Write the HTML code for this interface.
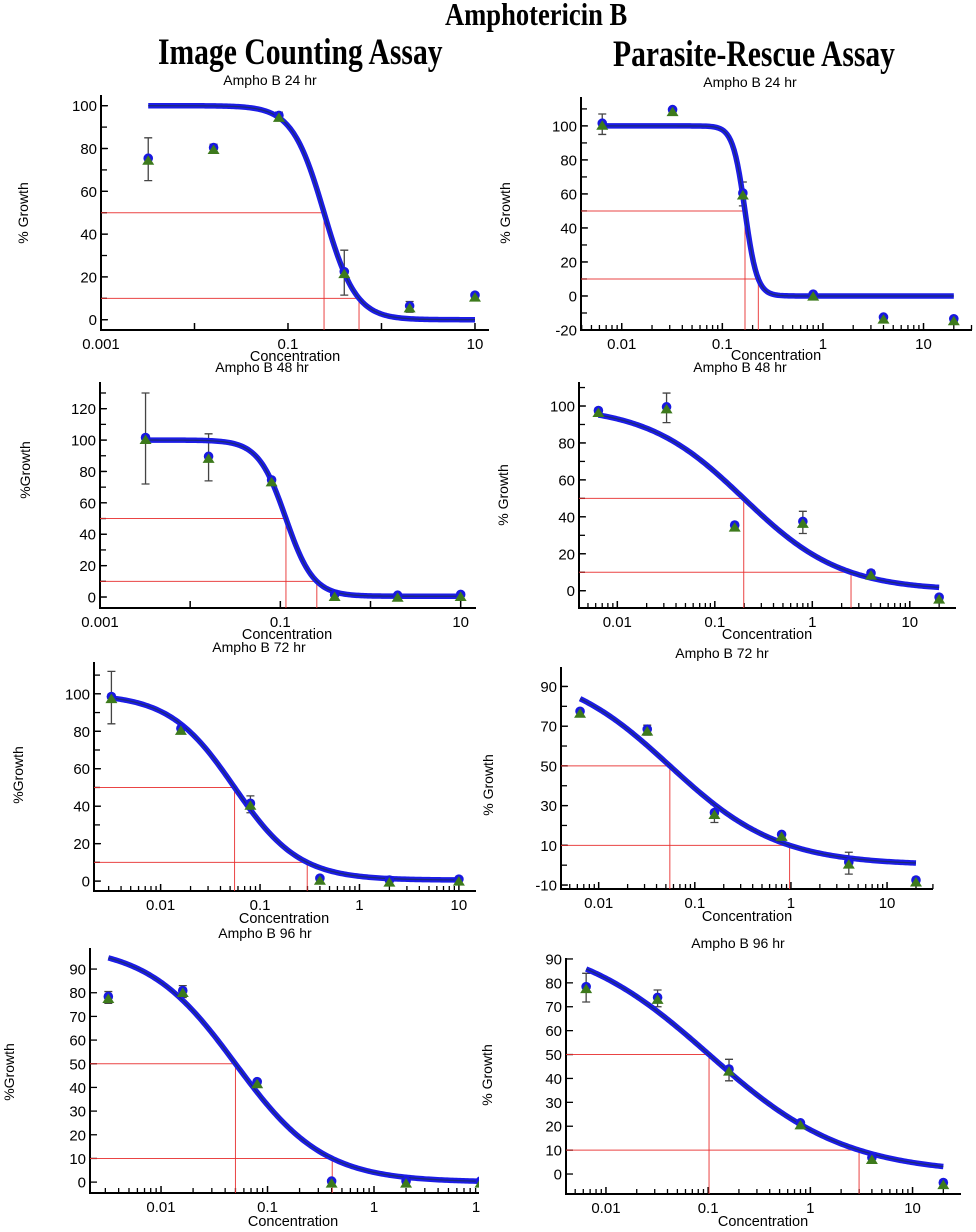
<!DOCTYPE html>
<html><head><meta charset="utf-8">
<style>
html,body{margin:0;padding:0;background:#fff;}
body{width:976px;height:1232px;position:relative;overflow:hidden;font-family:"Liberation Sans",sans-serif;}
.hdr{position:absolute;font-family:"Liberation Serif",serif;font-weight:bold;color:#000;white-space:nowrap;transform-origin:left top;}
svg{position:absolute;left:0;top:0;}
</style></head>
<body>
<div class="hdr" style="left:445px;top:-4px;font-size:32px;transform:scaleX(0.83);">Amphotericin B</div>
<div class="hdr" style="left:158px;top:31px;font-size:37px;transform:scaleX(0.80);">Image Counting Assay</div>
<div class="hdr" style="left:613px;top:33px;font-size:37px;transform:scaleX(0.80);">Parasite-Rescue Assay</div>
<svg id="chart" width="976" height="1232"></svg>
<script>
// concentrations
const concLeft = [0.0032, 0.016, 0.08, 0.4, 2, 10];
const concRight = [0.0064, 0.032, 0.16, 0.8, 4, 20];
// growth values per panel
const vals24L = [75, 80, 95, 22, 6, 11];
const err24L = [10, 2, 2, 10.5, 2.5, 1.5];
const vals24R = [101, 109, 60, 0.5, -13, -14];
const err24R = [6, 1, 7, 1, 1, 1];
const vals48L = [101, 89, 74, 1, 0.5, 1];
const err48L = [29, 15, 1, 0.5, 0.5, 0.5];
const vals48R = [97, 99, 35, 37, 9, -4];
const err48R = [1, 8, 1, 6, 2, 1];
const vals72L = [98, 81, 41, 1, 0, 0.5];
const err72L = [14, 1, 4.5, 0.5, 0.5, 0.5];
const vals72R = [77, 68, 26, 15, 1, -8];
const err72R = [1.5, 2.5, 4.5, 1, 5.5, 1];
const vals96L = [78, 80.5, 42, 0, 0, 0];
const err96L = [2.5, 2.5, 1, 0.5, 0.5, 0.5];
const vals96R = [78, 73.5, 43.5, 21, 6.5, -4];
const err96R = [6, 3.5, 4.5, 1, 2, 1];
// fitted curve params [top, bottom, ic50, hill]
const fit24L = [100, 0, 0.243, 2.55];
const fit24R = [100, 0, 0.168, 7.2];
const fit48L = [100, 0.5, 0.115, 2.84];
const fit48R = [100, 0, 0.198, 0.867];
const fit72L = [100, 0.5, 0.055, 1.33];
const fit72R = [100, 0, 0.055, 0.766];
const fit96L = [100, 0, 0.050, 1.05];
const fit96R = [100, 0, 0.102, 0.65];
// tick labels
const yTicks24L = [0, 20, 40, 60, 80, 100];
const yTicks24R = [-20, 0, 20, 40, 60, 80, 100];
const yTicks48L = [0, 20, 40, 60, 80, 100, 120];
const yTicks48R = [0, 20, 40, 60, 80, 100];
const yTicks72L = [0, 20, 40, 60, 80, 100];
const yTicks72R = [-10, 10, 30, 50, 70, 90];
const yTicks96 = [0, 10, 20, 30, 40, 50, 60, 70, 80, 90];
const xLabelsA = ["0.001", "0.1", "10"];
const xLabelsB = ["0.01", "0.1", "1", "10"];
const levels = [50, 10];

const panels = [
 {id:"24hr-image",title:"Ampho  B  24  hr",x0:101,x1:489,lL:-3,lR:1.15,yT:95,yB:330,vB:-4.8,vT:105,conc:concLeft,vals:vals24L,err:err24L,fit:fit24L,yt:yTicks24L,minorY:10,xl:xLabelsA,xlDec:[-3,-1,1],logMinor:false,tx:270,ty:85,cx:295,cy:361,ylab:"% Growth",lx:28,ly:213,c0:0.0032,c1:10},
 {id:"24hr-rescue",title:"Ampho  B  24  hr",x0:581,x1:972,lL:-2.405,lR:1.482,yT:97,yB:330,vB:-20,vT:117,conc:concRight,vals:vals24R,err:err24R,fit:fit24R,yt:yTicks24R,minorY:10,xl:xLabelsB,xlDec:[-2,-1,0,1],logMinor:true,tx:750,ty:87,cx:776,cy:360,ylab:"% Growth",lx:510,ly:213,c0:0.0064,c1:20},
 {id:"48hr-image",title:"Ampho  B  48  hr",x0:100,x1:476,lL:-3,lR:1.17,yT:382,yB:608,vB:-7,vT:137,conc:concLeft,vals:vals48L,err:err48L,fit:fit48L,yt:yTicks48L,minorY:10,xl:xLabelsA,xlDec:[-3,-1,1],logMinor:false,tx:262,ty:372,cx:287,cy:639,ylab:"%Growth",lx:30,ly:470,c0:0.0032,c1:10},
 {id:"48hr-rescue",title:"Ampho  B  48  hr",x0:579,x1:956,lL:-2.393,lR:1.474,yT:382,yB:608,vB:-9.35,vT:113,conc:concRight,vals:vals48R,err:err48R,fit:fit48R,yt:yTicks48R,minorY:10,xl:xLabelsB,xlDec:[-2,-1,0,1],logMinor:true,tx:740,ty:372,cx:767,cy:639,ylab:"% Growth",lx:508,ly:495,c0:0.0064,c1:20},
 {id:"72hr-image",title:"Ampho  B  72  hr",x0:94,x1:476,lL:-2.67,lR:1.172,yT:662,yB:891,vB:-5.3,vT:117,conc:concLeft,vals:vals72L,err:err72L,fit:fit72L,yt:yTicks72L,minorY:10,xl:xLabelsB,xlDec:[-2,-1,0,1],logMinor:true,tx:259,ty:652,cx:284,cy:923,ylab:"%Growth",lx:23,ly:775,c0:0.0032,c1:10},
 {id:"72hr-rescue",title:"Ampho  B  72  hr",x0:561,x1:933,lL:-2.392,lR:1.478,yT:667,yB:889,vB:-12,vT:99.8,conc:concRight,vals:vals72R,err:err72R,fit:fit72R,yt:yTicks72R,minorY:10,xl:xLabelsB,xlDec:[-2,-1,0,1],logMinor:true,tx:722,ty:658,cx:747,cy:921,ylab:"% Growth",lx:493,ly:785,c0:0.0064,c1:20},
 {id:"96hr-image",title:"Ampho  B  96  hr",x0:90,x1:479,lL:-2.667,lR:0.986,yT:948,yB:1193,vB:-4.6,vT:98.9,conc:concLeft,vals:vals96L,err:err96L,fit:fit96L,yt:yTicks96,minorY:0,xl:["0.01","0.1","1"],xlDec:[-2,-1,0],logMinor:true,tx:265,ty:938,cx:293,cy:1226,ylab:"%Growth",lx:14,ly:1072,c0:0.0032,c1:10,extraLabel:["1",476]},
 {id:"96hr-rescue",title:"Ampho  B  96  hr",x0:566,x1:961,lL:-2.391,lR:1.474,yT:958,yB:1194,vB:-8.36,vT:90.4,conc:concRight,vals:vals96R,err:err96R,fit:fit96R,yt:yTicks96,minorY:0,xl:xLabelsB,xlDec:[-2,-1,0,1],logMinor:true,tx:738,ty:948,cx:763,cy:1226,ylab:"% Growth",lx:492,ly:1075,c0:0.0064,c1:20}
];

const NS = "http://www.w3.org/2000/svg";
const svg = document.getElementById("chart");
function mk(tag, attrs, parent){
  const e = document.createElementNS(NS, tag);
  for (const k in attrs) e.setAttribute(k, attrs[k]);
  (parent || svg).appendChild(e);
  return e;
}
function logistic(f, c){ return f[1] + (f[0]-f[1])/(1+Math.pow(c/f[2], f[3])); }
function inverse(f, L){ return f[2]*Math.pow((f[0]-f[1])/(L-f[1]) - 1, 1/f[3]); }

panels.forEach(function(p, pi){
  const g = mk("g", {});
  
  
  const sx = function(c){ return p.x0 + (Math.log10(c) - p.lL) / (p.lR - p.lL) * (p.x1 - p.x0); };
  const sy = function(v){ return p.yB - (v - p.vB) / (p.vT - p.vB) * (p.yB - p.yT); };
  const clipId = "clip" + pi;
  const cp = mk("clipPath", {id: clipId}, g);
  mk("rect", {x: p.x0, y: p.yT - 10, width: p.x1 - p.x0, height: p.yB - p.yT + 10}, cp);

  const t = mk("text", {x: p.tx, y: p.ty, "text-anchor":"middle", "font-size":"14"}, g);
  t.textContent = p.title;
  
  
  const xt = mk("text", {x: p.cx, y: p.cy, "text-anchor":"middle", "font-size":"14.5"}, g);
  xt.textContent = "Concentration";
  
  
  const yt = mk("text", {x: p.lx, y: p.ly, "text-anchor":"middle", "font-size":"14", transform: "rotate(-90 " + p.lx + " " + p.ly + ")"}, g);
  yt.textContent = p.ylab;
  
  

  const ax = mk("path", {d: "M" + p.x0 + " " + p.yT + " V" + p.yB + " H" + p.x1, stroke: "#000", "stroke-width": "2", fill: "none"}, g);
  
  

  if (p.minorY > 0) {
    for (let v = Math.ceil(p.vB / p.minorY) * p.minorY; v <= p.vT; v += p.minorY) {
      mk("line", {x1: p.x0, x2: p.x0 + 6, y1: sy(v), y2: sy(v), stroke: "#000", "stroke-width": "1.3"}, g);
    }
  }
  p.yt.forEach(function(v){
    mk("line", {x1: p.x0, x2: p.x0 + 7, y1: sy(v), y2: sy(v), stroke: "#000", "stroke-width": "1.3"}, g);
    const l = mk("text", {x: p.x0 - 4, y: sy(v) + 5.5, "text-anchor": "end", "font-size": "15"}, g);
    l.textContent = String(v);
    
    
  });
  for (let d = Math.floor(p.lL); d <= Math.ceil(p.lR); d++) {
    const mx = p.x0 + (d - p.lL) / (p.lR - p.lL) * (p.x1 - p.x0);
    if (mx >= p.x0 - 0.5 && mx <= p.x1 + 0.5) mk("line", {x1: mx, x2: mx, y1: p.yB, y2: p.yB - 7, stroke: "#000", "stroke-width": "1.5"}, g);
    if (p.logMinor) {
      for (let k = 2; k <= 9; k++) {
        const lx = d + Math.log10(k);
        if (lx <= p.lL || lx >= p.lR) continue;
        const px = p.x0 + (lx - p.lL) / (p.lR - p.lL) * (p.x1 - p.x0);
        mk("line", {x1: px, x2: px, y1: p.yB, y2: p.yB - 5, stroke: "#000", "stroke-width": "1.3"}, g);
      }
    }
  }
  p.xl.forEach(function(lab, i){
    const px = p.x0 + (p.xlDec[i] - p.lL) / (p.lR - p.lL) * (p.x1 - p.x0);
    const l = mk("text", {x: px, y: p.yB + 19, "text-anchor": "middle", "font-size": "15"}, g);
    l.textContent = lab;
    
    
  });
  if (p.extraLabel) {
    const l = mk("text", {x: p.extraLabel[1], y: p.yB + 19, "text-anchor": "middle", "font-size": "15"}, g);
    l.textContent = p.extraLabel[0];
    
    
  }

  levels.forEach(function(L){
    const c = inverse(p.fit, L);
    const rl = mk("path", {d: "M" + p.x0 + " " + sy(L) + " H" + sx(c) + " V" + p.yB, stroke: "#e83030", "stroke-width": "1", fill: "none", opacity: "0.9"}, g);
    
    
  });

  const cg = mk("g", {"clip-path": "url(#" + clipId + ")"}, g);
  p.conc.forEach(function(c, i){
    const x = sx(c), v = p.vals[i], e = p.err[i];
    const eb = mk("path", {d: "M" + (x - 4) + " " + sy(v + e) + " H" + (x + 4) + " M" + x + " " + sy(v + e) + " V" + sy(v - e) + " M" + (x - 4) + " " + sy(v - e) + " H" + (x + 4), stroke: "#444", "stroke-width": "1.3", fill: "none"}, cg);
    
    
  });

  let d = "";
  const n = 200;
  for (let i = 0; i <= n; i++) {
    const lc = Math.log10(p.c0) + (Math.log10(p.c1) - Math.log10(p.c0)) * i / n;
    const c = Math.pow(10, lc);
    d += (i ? "L" : "M") + sx(c).toFixed(2) + " " + sy(logistic(p.fit, c)).toFixed(2);
  }
  const cv = mk("path", {d: d, stroke: "#1c1ce6", "stroke-width": "5.5", fill: "none"}, cg);
  
  
  mk("path", {d: d, stroke: "#1a2a7a", "stroke-width": "1.3", fill: "none"}, cg);

  p.conc.forEach(function(c, i){
    const x = sx(c), y = sy(p.vals[i]);
    const ci = mk("circle", {cx: x, cy: y - 1, r: 4.8, fill: "#1818e0"}, cg);
    
    
    const tr = mk("path", {d: "M" + x + " " + (y - 4) + " L" + (x + 6) + " " + (y + 5.5) + " L" + (x - 6) + " " + (y + 5.5) + " Z", fill: "#3d7a1c"}, cg);
    
    
  });
});
</script>
</body></html>
